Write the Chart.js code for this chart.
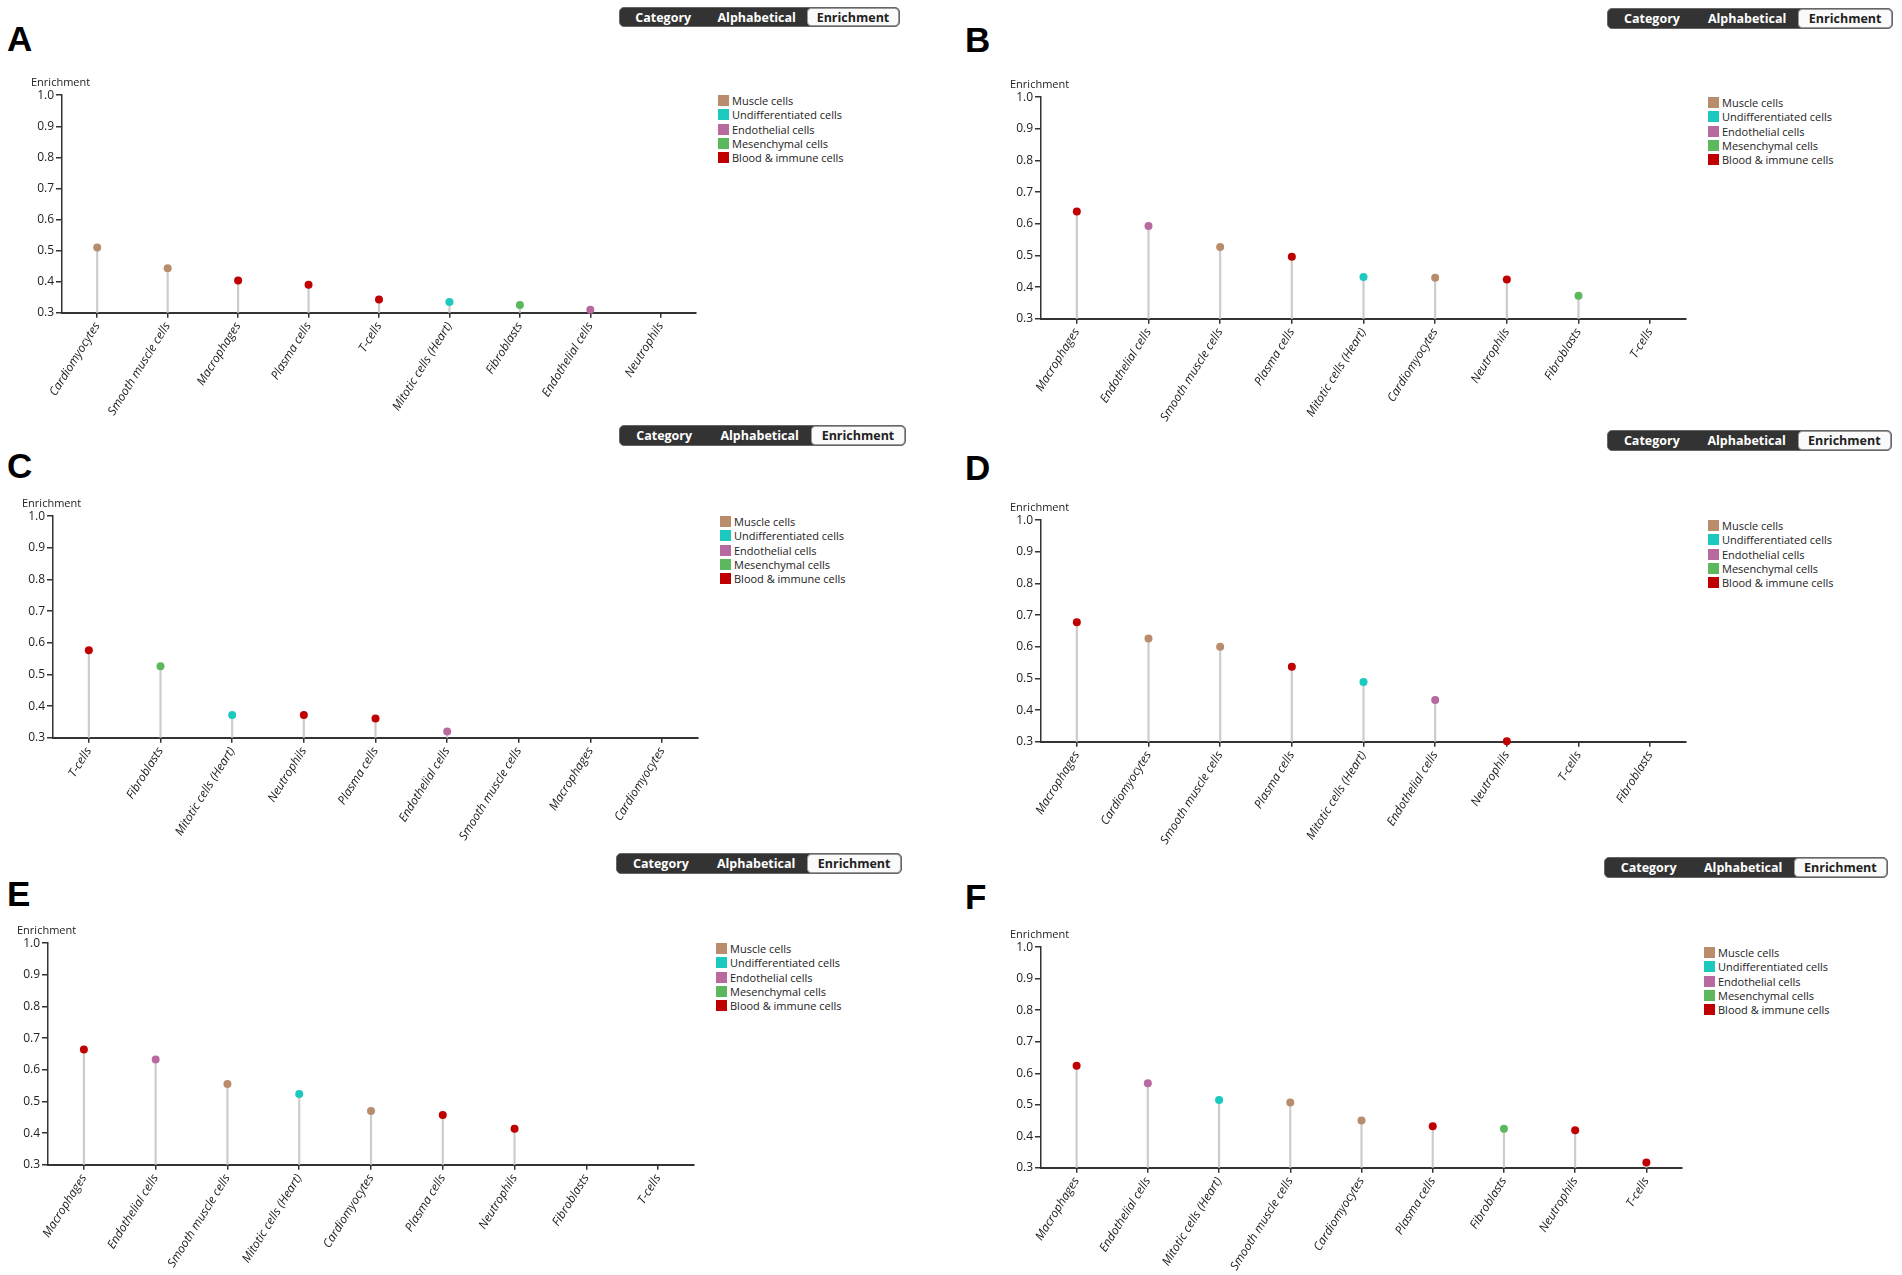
<!DOCTYPE html>
<html>
<head>
<meta charset="utf-8">
<script src="https://cdn.jsdelivr.net/npm/chart.js@4.4.1/dist/chart.umd.min.js"></script>
<style>
  body { margin:0; width:1902px; height:1275px; background:#fff; position:relative; overflow:hidden; font-family:"Open Sans", sans-serif; }
  .letter { position:absolute; font:bold 35px "Liberation Sans", Arial, sans-serif; line-height:1; color:#000; }
  .btns { position:absolute; display:flex; background:#333; border:1px solid #666; border-radius:5px; box-sizing:border-box; font:bold 12.5px "Open Sans", sans-serif; }
  .btns span { display:flex; align-items:center; justify-content:center; color:#fff; box-sizing:border-box; }
  .btns span.on { background:#fafafa; color:#222; border:1px solid #999; border-radius:4px; }
  canvas { position:absolute; }
  .legend { position:absolute; font-size:11px; color:#222; }
  .legend div { height:14.3px; display:flex; align-items:center; white-space:nowrap; }
  .legend i { width:11px; height:11px; margin-right:3px; display:inline-block; }
</style>
</head>
<body>
<script>
// cell type groups (legend)
const groupNames = ['Muscle cells', 'Undifferentiated cells', 'Endothelial cells', 'Mesenchymal cells', 'Blood & immune cells'];
const groupColors = ['#b98c6c', '#1cc9bf', '#b86a9e', '#5cb85c', '#c00000'];

const cellTypes = ['Cardiomyocytes', 'Smooth muscle cells', 'Macrophages', 'Plasma cells', 'T-cells',
                   'Mitotic cells (Heart)', 'Fibroblasts', 'Endothelial cells', 'Neutrophils'];
const cellTypeGroup = [0, 0, 4, 4, 4, 1, 3, 2, 4];

const yTicks = [0.3, 0.4, 0.5, 0.6, 0.7, 0.8, 0.9, 1.0];

// enrichment per panel (null = below 0.3, no dot shown)
const labelsA = ['Cardiomyocytes', 'Smooth muscle cells', 'Macrophages', 'Plasma cells', 'T-cells', 'Mitotic cells (Heart)', 'Fibroblasts', 'Endothelial cells', 'Neutrophils'];
const valuesA = [0.510, 0.443, 0.404, 0.390, 0.343, 0.335, 0.325, 0.310, null];

const labelsB = ['Macrophages', 'Endothelial cells', 'Smooth muscle cells', 'Plasma cells', 'Mitotic cells (Heart)', 'Cardiomyocytes', 'Neutrophils', 'Fibroblasts', 'T-cells'];
const valuesB = [0.639, 0.593, 0.527, 0.496, 0.432, 0.430, 0.424, 0.373, null];

const labelsC = ['T-cells', 'Fibroblasts', 'Mitotic cells (Heart)', 'Neutrophils', 'Plasma cells', 'Endothelial cells', 'Smooth muscle cells', 'Macrophages', 'Cardiomyocytes'];
const valuesC = [0.577, 0.526, 0.372, 0.372, 0.361, 0.320, null, null, null];

const labelsD = ['Macrophages', 'Cardiomyocytes', 'Smooth muscle cells', 'Plasma cells', 'Mitotic cells (Heart)', 'Endothelial cells', 'Neutrophils', 'T-cells', 'Fibroblasts'];
const valuesD = [0.678, 0.626, 0.600, 0.537, 0.489, 0.432, 0.302, null, null];

const labelsE = ['Macrophages', 'Endothelial cells', 'Smooth muscle cells', 'Mitotic cells (Heart)', 'Cardiomyocytes', 'Plasma cells', 'Neutrophils', 'Fibroblasts', 'T-cells'];
const valuesE = [0.664, 0.633, 0.555, 0.524, 0.470, 0.457, 0.414, null, null];

const labelsF = ['Macrophages', 'Endothelial cells', 'Mitotic cells (Heart)', 'Smooth muscle cells', 'Cardiomyocytes', 'Plasma cells', 'Fibroblasts', 'Neutrophils', 'T-cells'];
const valuesF = [0.624, 0.568, 0.515, 0.507, 0.450, 0.432, 0.424, 0.419, 0.317];

const buttonNames = ['Category', 'Alphabetical', 'Enrichment'];

// layout: plot area [x, y, w, h], buttons [x, y, w, h], letter [x, y]
const panels = [
  { letter: 'A', labels: labelsA, values: valuesA, area: [62, 95, 634, 218],    btn: [619, 7, 281, 20],    pos: [7, 20.5] },
  { letter: 'B', labels: labelsB, values: valuesB, area: [1041, 97, 645, 222],  btn: [1607, 8, 286, 21],   pos: [965, 21.5] },
  { letter: 'C', labels: labelsC, values: valuesC, area: [53, 516, 645, 222],   btn: [619, 425, 287, 21],  pos: [7, 447.5] },
  { letter: 'D', labels: labelsD, values: valuesD, area: [1041, 520, 645, 222], btn: [1607, 430, 285, 21], pos: [965, 449.5] },
  { letter: 'E', labels: labelsE, values: valuesE, area: [48, 943, 646, 222],   btn: [616, 853, 286, 21],  pos: [7, 875.5] },
  { letter: 'F', labels: labelsF, values: valuesF, area: [1041, 947, 641, 221], btn: [1604, 857, 284, 21], pos: [965, 878.5] }
];

Chart.defaults.font.family = '"Open Sans", sans-serif';
Chart.defaults.color = '#222';

function dotColor(label) {
  return groupColors[cellTypeGroup[cellTypes.indexOf(label)]];
}

function makeConfig(p) {
  return {
    type: 'bar',
    data: {
      labels: p.labels,
      datasets: [
        {
          type: 'line',
          data: p.values,
          showLine: false,
          pointRadius: 4,
          pointHoverRadius: 4,
          pointBorderWidth: 0,
          pointBackgroundColor: p.labels.map(dotColor),
          clip: false,
          order: 0
        },
        {
          data: p.values,
          backgroundColor: '#cccccc',
          barThickness: 1.5,
          order: 1
        }
      ]
    },
    options: {
      responsive: false,
      animation: false,
      devicePixelRatio: 1,
      plugins: {
        legend: { display: false },
        tooltip: { enabled: false },
        title: {
          display: true, text: 'Enrichment', align: 'start', color: '#222',
          font: { size: 11, weight: 'normal' }, padding: { top: 2, bottom: 6 }
        }
      },
      scales: {
        x: {
          offset: true,
          grid: { offset: false, drawOnChartArea: false, drawTicks: true, tickLength: 5, color: '#333', lineWidth: 1.5 },
          border: { color: '#333', width: 2 },
          ticks: { autoSkip: false, minRotation: 58, maxRotation: 58, padding: 2, color: '#222',
                   font: { size: 12, style: 'italic' } }
        },
        y: {
          min: 0.3, max: 1.0,
          afterBuildTicks: s => { s.ticks = yTicks.map(v => ({ value: v })); },
          afterFit: s => { s.width = 31; },
          grid: { drawOnChartArea: false, drawTicks: true, tickLength: 6, color: '#333', lineWidth: 1.5 },
          border: { color: '#333', width: 1.5 },
          ticks: { padding: 2, color: '#222', font: { size: 12 }, callback: v => v.toFixed(1) }
        }
      }
    }
  };
}

function build(p) {
  const [ax, ay, aw, ah] = p.area;

  const letter = document.createElement('div');
  letter.className = 'letter';
  letter.textContent = p.letter;
  letter.style.left = p.pos[0] + 'px';
  letter.style.top = p.pos[1] + 'px';
  document.body.appendChild(letter);

  const btns = document.createElement('div');
  btns.className = 'btns';
  Object.assign(btns.style, { left: p.btn[0] + 'px', top: p.btn[1] + 'px', width: p.btn[2] + 'px', height: p.btn[3] + 'px' });
  const shares = [0.31, 0.36, 0.33];
  buttonNames.forEach((n, i) => {
    const s = document.createElement('span');
    s.textContent = n;
    s.style.width = (shares[i] * 100) + '%';
    if (i === 2) s.className = 'on';
    btns.appendChild(s);
  });
  document.body.appendChild(btns);

  // draw once, measure the plot area, then redraw with a canvas sized so the
  // plot area lands where it sits in the figure
  let L = ax - 40, T = ay - 30, W = aw + 60, H = ah + 150;
  let cv, chart;
  for (let k = 0; k < 3; k++) {
    if (chart) { chart.destroy(); cv.remove(); }
    cv = document.createElement('canvas');
    cv.width = W; cv.height = H;
    cv.style.left = L + 'px'; cv.style.top = T + 'px';
    document.body.appendChild(cv);
    chart = new Chart(cv, makeConfig(p));
    const a = chart.chartArea;
    const dw = aw - (a.right - a.left), dh = ah - (a.bottom - a.top);
    const dx = ax - (L + a.left), dy = ay - (T + a.top);
    if (Math.abs(dw) < 0.5 && Math.abs(dh) < 0.5 && Math.abs(dx) < 0.5 && Math.abs(dy) < 0.5) break;
    W = Math.round(W + dw); H = Math.round(H + dh);
    L += dx; T += dy;
  }

  const lg = document.createElement('div');
  lg.className = 'legend';
  lg.style.left = (ax + aw + 22) + 'px';
  lg.style.top = (ay - 1.6) + 'px';
  groupNames.forEach((n, i) => {
    const row = document.createElement('div');
    const sq = document.createElement('i');
    sq.style.background = groupColors[i];
    row.appendChild(sq);
    row.appendChild(document.createTextNode(n));
    lg.appendChild(row);
  });
  document.body.appendChild(lg);
}

panels.forEach(build);
</script>
</body>
</html>
